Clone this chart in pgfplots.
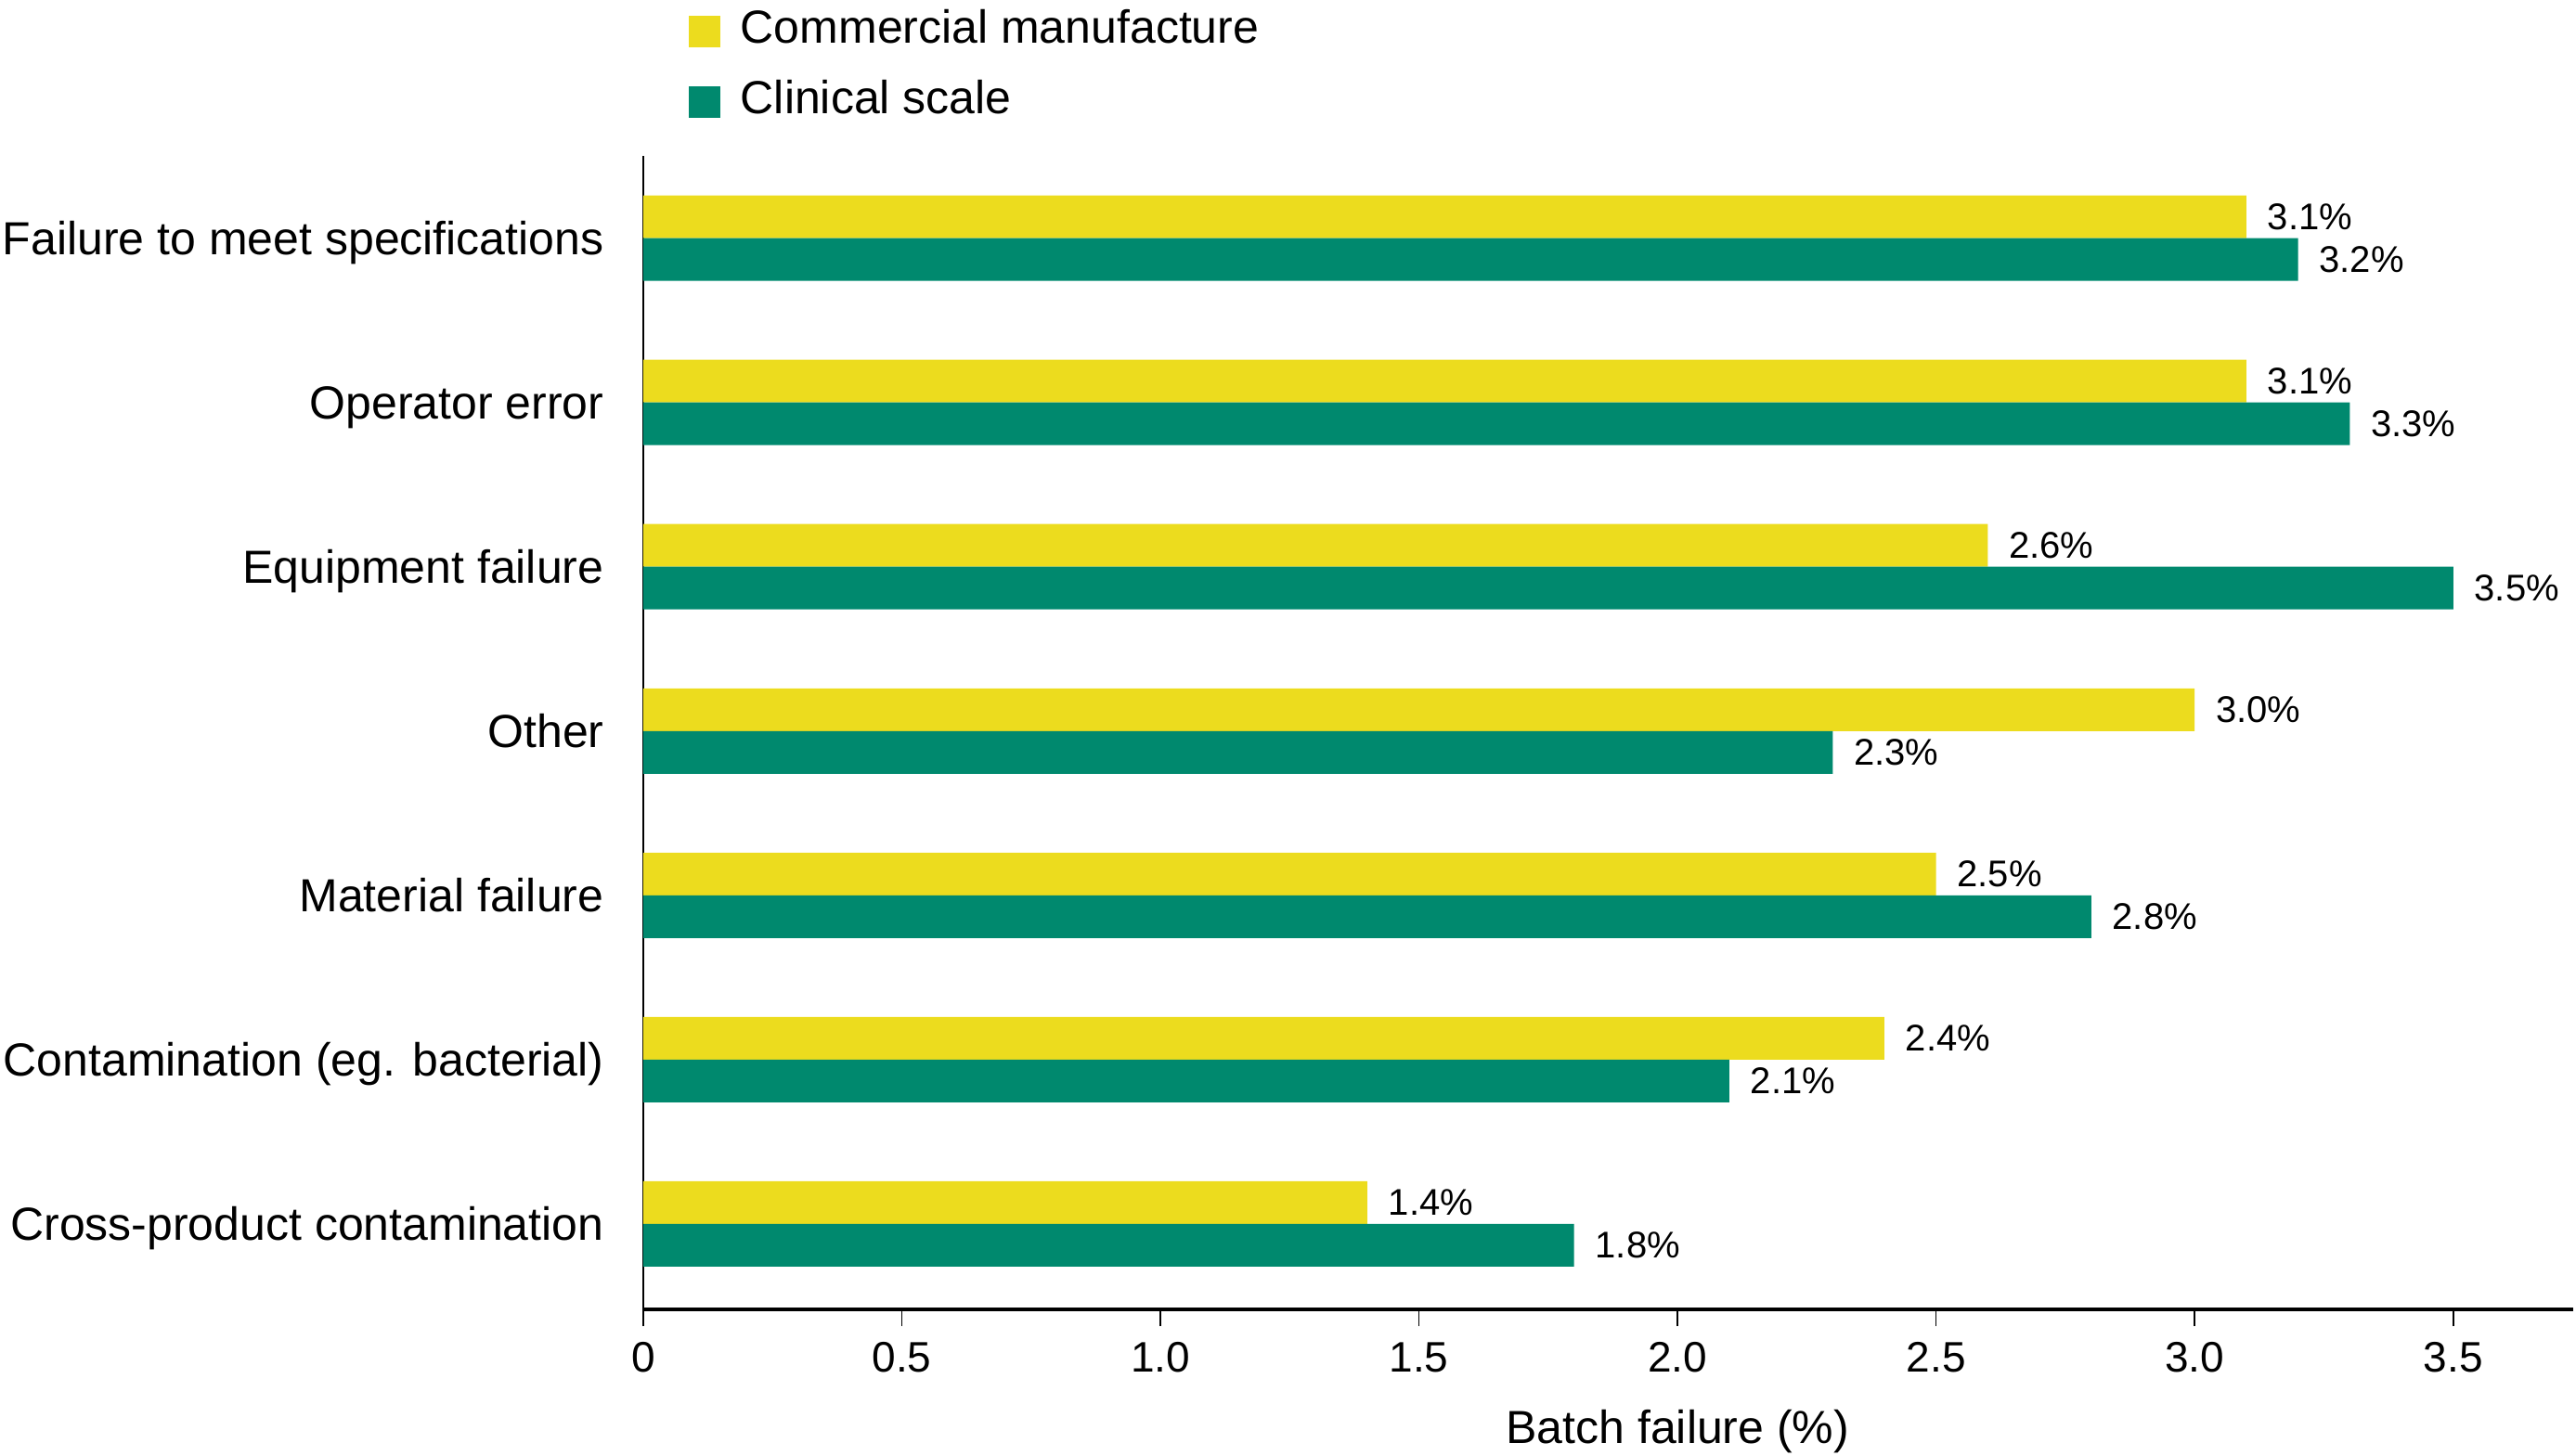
\documentclass[border=0pt]{standalone}
\usepackage{pgfplots}
\pgfplotsset{compat=1.18}
\usepackage{fontspec}
\setmainfont{Liberation Sans}

\definecolor{cmyellow}{RGB}{236,220,30}
\definecolor{clgreen}{RGB}{0,137,110}

\begin{document}
\begin{tikzpicture}
\begin{axis}[
    name=ax,
    xbar,
    scale only axis,
    width=519.75pt, height=310.75pt,
    xmin=0, xmax=3.732,
    ymin=-0.5, ymax=6.52,
    y dir=reverse,
    bar width=11.5pt,
    axis x line*=bottom,
    axis y line*=left,
    x axis line style={-, line width=0.9pt},
    y axis line style={-, line width=0.6pt},
    xtick={0,0.5,1,1.5,2,2.5,3,3.5},
    xticklabels={0,0.5,1.0,1.5,2.0,2.5,3.0,3.5},
    tick align=outside,
    major tick length=4.5pt,
    xtick style={black, line width=0.4pt},
    ytick={0,1,2,3,4,5,6},
    yticklabels={Failure to meet specifications, Operator error, Equipment failure, Other, Material failure, Contamination (eg. bacterial), Cross-product contamination},
    ytick style={draw=none},
    yticklabel style={font=\fontsize{12.5}{14}\selectfont, anchor=east, xshift=-2.6pt,
        text height=9pt, text depth=0pt},
    xticklabel style={font=\fontsize{11.5}{13}\selectfont, yshift=-0.8pt},
    xlabel={Batch failure (\%)},
    xlabel style={font=\fontsize{12.5}{14}\selectfont, at={(rel axis cs:0.536,0)}, anchor=center, yshift=-33pt},
    /pgf/number format/assume math mode=true,
    nodes near coords={\pgfmathprintnumber[fixed,fixed zerofill,precision=1]{\pgfplotspointmeta}\%},
    every node near coord/.append style={font=\fontsize{10}{12}\selectfont, black, anchor=west, xshift=2.2pt},
    legend cell align=left,
    legend image code/.code={\fill[#1] (0pt,-4.25pt) rectangle (8.5pt,4.25pt);},
    legend style={at={(rel axis cs:0.0231,1.127)}, anchor=north west, draw=none, fill=none,
        inner sep=0pt, row sep=7.5pt,
        font=\fontsize{12.5}{14}\selectfont,
        nodes={inner sep=0pt, text height=9pt, text depth=2.5pt}},
]
\addplot[fill=cmyellow, draw=none, bar shift=5.75pt] coordinates {
    (3.1,0) (3.1,1) (2.6,2) (3.0,3) (2.5,4) (2.4,5) (1.4,6)};
\addlegendentry{\hspace{5.5pt}Commercial manufacture}
\addplot[fill=clgreen, draw=none, bar shift=-5.75pt] coordinates {
    (3.2,0) (3.3,1) (3.5,2) (2.3,3) (2.8,4) (2.1,5) (1.8,6)};
\addlegendentry{\hspace{5.5pt}Clinical scale}
\end{axis}
\pgfresetboundingbox
\path[use as bounding box] (ax.south west) ++(-173.25pt,-39.25pt) rectangle ++(693.75pt,392pt);
\end{tikzpicture}
\end{document}
